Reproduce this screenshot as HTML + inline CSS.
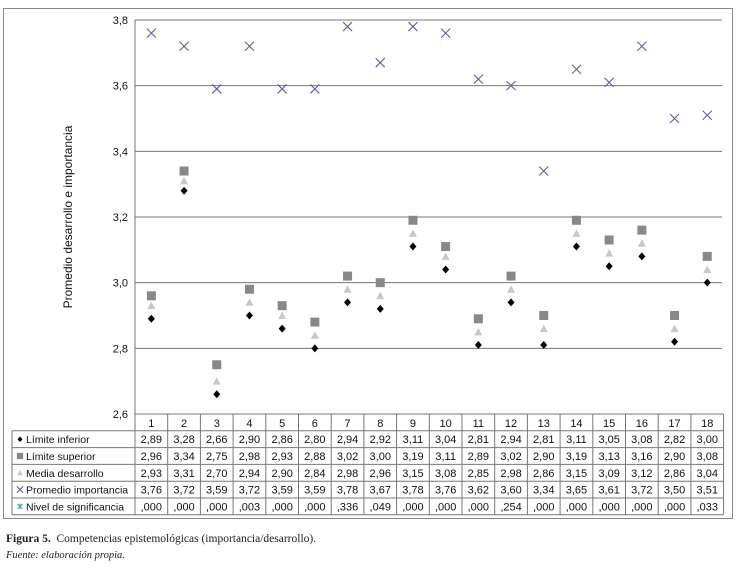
<!DOCTYPE html>
<html><head><meta charset="utf-8"><style>
body{margin:0;background:#fff;width:739px;height:566px;overflow:hidden;font-family:"Liberation Sans",sans-serif}
svg text{font-family:"Liberation Sans",sans-serif}
.cap{position:absolute;left:6px;font-family:"Liberation Serif",serif;font-size:11.5px;color:#222}
</style></head><body>
<svg id="chart" width="739" height="566" style="position:absolute;left:0;top:0" xmlns="http://www.w3.org/2000/svg">
<rect x="3.5" y="8.5" width="729" height="510" fill="none" stroke="#888" stroke-width="1"/>
<g id="grid"></g><g id="marks"></g><g id="table"></g>
</svg>
<div class="cap" style="top:533px"><b>Figura 5.</b>&nbsp; Competencias epistemológicas (importancia/desarrollo).</div>
<div class="cap" style="top:550px;font-style:italic;font-size:10.5px">Fuente: elaboración propia.</div>
<script>
const categories=["1","2","3","4","5","6","7","8","9","10","11","12","13","14","15","16","17","18"];
const limInf=[2.89,3.28,2.66,2.90,2.86,2.80,2.94,2.92,3.11,3.04,2.81,2.94,2.81,3.11,3.05,3.08,2.82,3.00];
const limSup=[2.96,3.34,2.75,2.98,2.93,2.88,3.02,3.00,3.19,3.11,2.89,3.02,2.90,3.19,3.13,3.16,2.90,3.08];
const media=[2.93,3.31,2.70,2.94,2.90,2.84,2.98,2.96,3.15,3.08,2.85,2.98,2.86,3.15,3.09,3.12,2.86,3.04];
const promImp=[3.76,3.72,3.59,3.72,3.59,3.59,3.78,3.67,3.78,3.76,3.62,3.60,3.34,3.65,3.61,3.72,3.50,3.51];
const nivSig=[",000",",000",",000",",003",",000",",000",",336",",049",",000",",000",",000",",254",",000",",000",",000",",000",",000",",033"];
const yTicks=[2.6,2.8,3.0,3.2,3.4,3.6,3.8];
const yTickLabels=["2,6","2,8","3,0","3,2","3,4","3,6","3,8"];
const X0=135,CW=32.7,Y38=20,Y26=414;
const ns="http://www.w3.org/2000/svg";
const x=i=>X0+CW*(i+0.5);
const y=v=>Y26-(v-2.6)/1.2*(Y26-Y38);
function mk(t,a,p){const e=document.createElementNS(ns,t);for(const k in a)e.setAttribute(k,a[k]);p.appendChild(e);return e;}
const grid=document.getElementById('grid'),marks=document.getElementById('marks'),tb=document.getElementById('table');
yTicks.forEach((v,i)=>{
 if(i>0){const l=mk('line',{x1:X0,x2:722,y1:y(v),y2:y(v),stroke:'#777','stroke-width':1},grid);
 
 }
 const t=mk('text',{x:128,y:y(v)+4,'text-anchor':'end','font-size':11,fill:'#111'},grid);t.textContent=yTickLabels[i];
 
 
});
const ax=mk('line',{x1:X0,x2:X0,y1:Y38,y2:Y26,stroke:'#777'},grid);


const yt=mk('text',{x:0,y:0,transform:'translate(72,217) rotate(-90)','text-anchor':'middle','font-size':12,fill:'#111'},grid);
yt.textContent='Promedio desarrollo e importancia';


function diamond(cx,cy,p,s=1){return mk('path',{d:`M${cx} ${cy-4*s}L${cx+3.5*s} ${cy}L${cx} ${cy+4*s}L${cx-3.5*s} ${cy}Z`,fill:'#000'},p);}
function square(cx,cy,p,s=1){return mk('rect',{x:cx-4.5*s,y:cy-4.5*s,width:9*s,height:9*s,fill:'#888'},p);}
function tri(cx,cy,p,s=1){return mk('path',{d:`M${cx} ${cy-4*s}L${cx+4*s} ${cy+3.5*s}L${cx-4*s} ${cy+3.5*s}Z`,fill:'#c8c8c8'},p);}
function cross(cx,cy,p,s=1){return mk('path',{d:`M${cx-4.5*s} ${cy-4.5*s}L${cx+4.5*s} ${cy+4.5*s}M${cx+4.5*s} ${cy-4.5*s}L${cx-4.5*s} ${cy+4.5*s}`,stroke:'#6a5a9a','stroke-width':1.1,fill:'none'},p);}
function star(cx,cy,p,s=1){return mk('path',{d:`M${cx-3.5*s} ${cy-3.5*s}L${cx+3.5*s} ${cy+3.5*s}M${cx+3.5*s} ${cy-3.5*s}L${cx-3.5*s} ${cy+3.5*s}M${cx} ${cy-4*s}L${cx} ${cy+4*s}`,stroke:'#4aa0c0','stroke-width':1.1,fill:'none'},p);}
categories.forEach((c,i)=>{
 let e=square(x(i),y(limSup[i]),marks);
 e=tri(x(i),y(media[i]),marks);
 e=diamond(x(i),y(limInf[i]),marks);
 e=cross(x(i),y(promImp[i]),marks);
});
const RT=414,RH=16.8,TL=12,TR=X0+CW*18;
const fmt=v=>v.toFixed(2).replace('.',',');
const rows=[["Límite inferior",limInf.map(fmt),diamond],["Límite superior",limSup.map(fmt),square],["Media desarrollo",media.map(fmt),tri],["Promedio importancia",promImp.map(fmt),cross],["Nivel de significancia",nivSig,star]];
const st={stroke:'#777','stroke-width':1};
mk('line',Object.assign({x1:X0,x2:TR,y1:RT,y2:RT},st),tb);
for(let r=1;r<=6;r++)mk('line',Object.assign({x1:TL,x2:TR,y1:RT+RH*r,y2:RT+RH*r},st),tb);
mk('line',Object.assign({x1:TL,x2:TL,y1:RT+RH,y2:RT+RH*6},st),tb);
for(let i=0;i<=18;i++)mk('line',Object.assign({x1:X0+CW*i,x2:X0+CW*i,y1:RT,y2:RT+RH*6},st),tb);
categories.forEach((c,i)=>{const t=mk('text',{x:x(i),y:RT+RH-4,'text-anchor':'middle','font-size':11,fill:'#111'},tb);t.textContent=c;
 
 });
rows.forEach((r,ri)=>{
 const cy=RT+RH*(ri+1.5);
 const m=r[2](20,cy,tb,0.7);
 
 
 const t=mk('text',{x:26,y:cy+4,'font-size':10.5,fill:'#111'},tb);t.textContent=r[0];
 
 
 r[1].forEach((v,i)=>{const c=mk('text',{x:x(i),y:cy+4,'text-anchor':'middle','font-size':11,fill:'#111'},tb);c.textContent=v;
  
  });
});
</script>
</body></html>
